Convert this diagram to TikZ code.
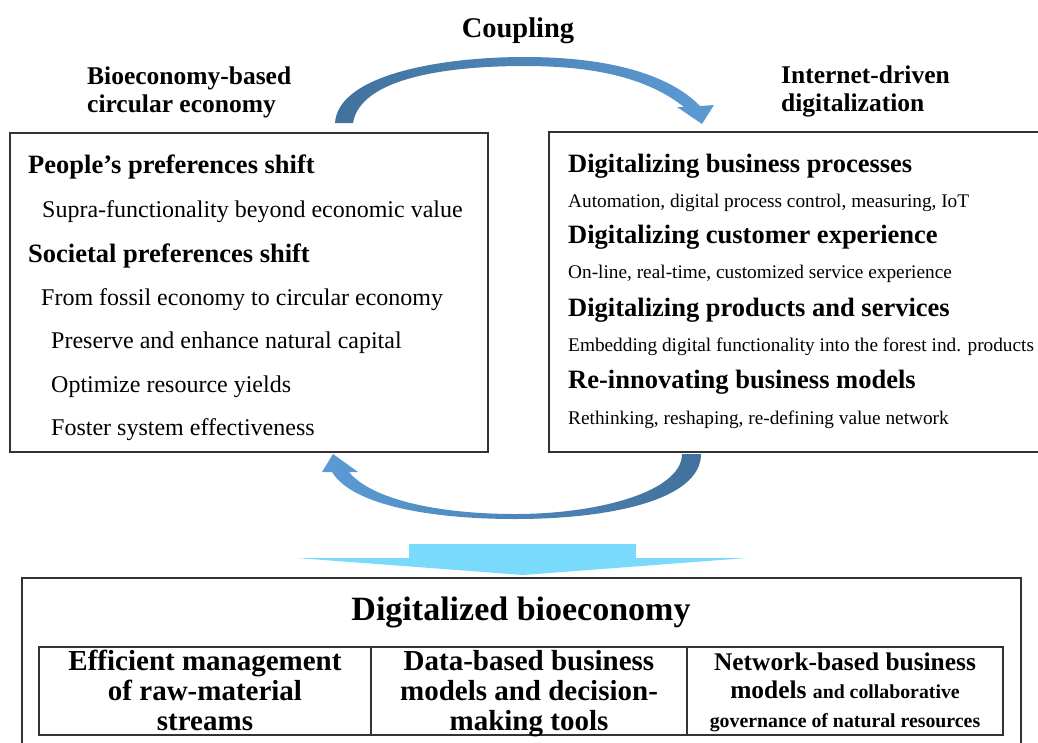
\documentclass[tikz,border=0pt]{standalone}
\usepackage{fontspec}
\setmainfont{Liberation Serif}
\definecolor{arrow_dark}{RGB}{65,113,156}
\definecolor{arrow_light}{RGB}{91,155,213}
\definecolor{arrow_cyan}{RGB}{122,218,252}
\begin{document}
\begin{tikzpicture}[x=1pt, y=-1pt,
  box_line/.style={draw=black!80, line width=1.2pt},
  top_label/.style={anchor=base west, inner sep=0, font=\fontsize{25.5}{28}\selectfont\bfseries},
  head_text/.style={anchor=base west, inner sep=0, font=\fontsize{26.5}{30}\selectfont\bfseries},
  left_text/.style={anchor=base west, inner sep=0, font=\fontsize{24}{28}\selectfont},
  right_text/.style={anchor=base west, inner sep=0, font=\fontsize{19.3}{24}\selectfont},
  cell_text/.style={anchor=base, inner sep=0, font=\fontsize{29}{30}\selectfont\bfseries}]

\useasboundingbox (0,0) rectangle (1038,742);

% boxes
\draw[box_line] (10,133) rectangle (488,452);
\draw[box_line] (549,132) rectangle (1050,452);
\draw[box_line] (22,578) rectangle (1021,760);
\draw[box_line] (39,647) rectangle (1003,735);
\draw[box_line] (371,647) -- (371,735);
\draw[box_line] (687,647) -- (687,735);

% coupling arrows
\shade[left color=arrow_dark, right color=arrow_light]
  (335,123) .. controls (338,75) and (440,57) .. (525,57)
  .. controls (610,57) and (670,75) .. (700,106)
  -- (714,105) -- (702,124) -- (677,107) -- (684,107)
  .. controls (650,80) and (600,66) .. (525,66)
  .. controls (440,66) and (360,80) .. (353,123) -- cycle;
\shade[left color=arrow_light, right color=arrow_dark]
  (682,454) .. controls (682,491) and (600,514) .. (515,514)
  .. controls (440,514) and (372,500) .. (349,472)
  -- (358,472) -- (333,454) -- (322,472) -- (332,472)
  .. controls (352,505) and (430,519) .. (515,519)
  .. controls (610,519) and (701,500) .. (701,454) -- cycle;
\fill[arrow_cyan] (409,544) rectangle (636,558);
\fill[arrow_cyan] (297,558) -- (747,558) -- (523,575) -- cycle;

% labels on top
\node[anchor=base, inner sep=0, font=\fontsize{28.5}{30}\selectfont\bfseries] (coupling) at (518,37) {Coupling};
\node[top_label] (bio1) at (87,84) {Bioeconomy-based};
\node[top_label] (bio2) at (87,112) {circular economy};
\node[top_label] (net1) at (781,83) {Internet-driven};
\node[top_label] (net2) at (781,111) {digitalization};

% left box
\node[head_text] (people) at (28,173) {People’s preferences shift};
\node[left_text] (supra) at (42,217) {Supra-functionality beyond economic value};
\node[head_text] (societal) at (28,262) {Societal preferences shift};
\node[left_text] (fossil) at (41,305) {From fossil economy to circular economy};
\node[left_text] (preserve) at (51,348) {Preserve and enhance natural capital};
\node[left_text] (optimize) at (51,392) {Optimize resource yields};
\node[left_text] (foster) at (51,435) {Foster system effectiveness};

% right box
\node[head_text] (process) at (568,172) {Digitalizing business processes};
\node[right_text] (automation) at (568,207) {Automation, digital process control, measuring, IoT};
\node[head_text] (customer) at (568,243) {Digitalizing customer experience};
\node[right_text] (online) at (568,278) {On-line, real-time, customized service experience};
\node[head_text] (products) at (568,316) {Digitalizing products and services};
\node[right_text] (embedding) at (568,351) {Embedding digital functionality into the forest ind. products};
\node[head_text] (models) at (568,388) {Re-innovating business models};
\node[right_text] (rethinking) at (568,424) {Rethinking, reshaping, re-defining value network};

% bottom box
\node[anchor=base, inner sep=0, font=\fontsize{34}{36}\selectfont\bfseries] (digibio) at (521,620) {Digitalized bioeconomy};
\node[cell_text] (eff1) at (205,670) {Efficient management};
\node[cell_text] (eff2) at (205,700) {of raw-material};
\node[cell_text] (eff3) at (205,730) {streams};
\node[cell_text] (data1) at (529,670) {Data-based business};
\node[cell_text] (data2) at (529,700) {models and decision-};
\node[cell_text] (data3) at (529,730) {making tools};
\node[cell_text, font=\fontsize{25.4}{28}\selectfont\bfseries] (netw1) at (845,670) {Network-based business};
\node[cell_text, font=\fontsize{25.4}{28}\selectfont\bfseries] (netw2) at (845,698) {models {\fontsize{19.8}{22}\selectfont and collaborative}};
\node[cell_text, font=\fontsize{19.8}{22}\selectfont\bfseries] (netw3) at (845,727) {governance of natural resources};

\end{tikzpicture}
\end{document}
